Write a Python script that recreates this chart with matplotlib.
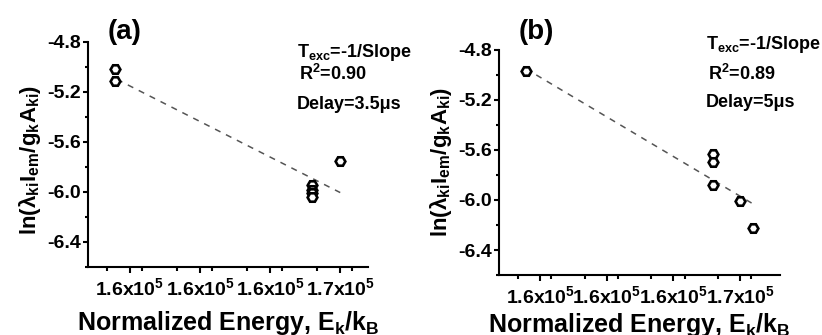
import matplotlib
matplotlib.use("Agg")
from matplotlib import pyplot as plt
from matplotlib.ticker import MultipleLocator, FixedLocator, FuncFormatter

plt.rcParams['font.family'] = ['Liberation Sans', 'DejaVu Sans']
plt.rcParams['font.weight'] = 'bold'
plt.rcParams['axes.labelweight'] = 'bold'
plt.rcParams['axes.unicode_minus'] = False
plt.rcParams['mathtext.fontset'] = 'custom'
plt.rcParams['mathtext.rm'] = 'Liberation Sans:bold'
plt.rcParams['mathtext.it'] = 'Liberation Sans:bold'
plt.rcParams['mathtext.bf'] = 'Liberation Sans:bold'

# panel (a), delay 3.5 us
xa = [156370, 156370, 164800, 164800, 164800, 164800, 166000]
ya = [-5.02, -5.11, -5.945, -5.985, -6.01, -6.04, -5.75]
fit_xa = [156440, 166000]
fit_ya = [-5.10, -6.005]

# panel (b), delay 5 us
xb = [156370, 164800, 164800, 164800, 166000, 166600]
yb = [-4.97, -5.63, -5.70, -5.88, -6.01, -6.225]
fit_xb = [156820, 166590]
fit_yb = [-5.00, -6.032]

xticks = [157000, 160000, 163000, 166000]
yticks = [-4.8, -5.2, -5.6, -6.0, -6.4]

panels = [
    dict(tag="(a)", x=xa, y=ya, fx=fit_xa, fy=fit_ya, r2="0.90", delay="3.5",
         rect=[0.107, 0.203, 0.341, 0.672], xlim=(155200, 167200), tagy=1.012,
         tx=0.746, ty=(0.933, 0.831, 0.70), ylab=(-0.16, 0.476), xlab=(0.5, -0.185)),
    dict(tag="(b)", x=xb, y=yb, fx=fit_xb, fy=fit_yb, r2="0.89", delay="5",
         rect=[0.607, 0.179, 0.342, 0.672], xlim=(155140, 167800), tagy=1.05,
         tx=0.737, ty=(1.005, 0.867, 0.745), ylab=(-0.16, 0.504), xlab=(0.5, -0.16)),
]

fig = plt.figure(figsize=(8.22, 3.35), dpi=100)

for p in panels:
    ax = fig.add_axes(p['rect'])
    ax.plot(p['fx'], p['fy'], ls=(0, (4, 4)), color='#555555', lw=1.1)
    ax.plot(p['x'], p['y'], ls='none', marker='H', ms=7, mfc='white', mec='black', mew=1.9)
    ax.set_xlim(*p['xlim'])
    ax.set_ylim(-6.6, -4.8)
    ax.spines['top'].set_visible(False)
    ax.spines['right'].set_visible(False)
    for s in ('left', 'bottom'):
        ax.spines[s].set_linewidth(1.5)
    ax.xaxis.set_major_locator(FixedLocator(xticks))
    ax.xaxis.set_minor_locator(MultipleLocator(1500))
    ax.xaxis.set_major_formatter(FuncFormatter(lambda v, i: f"{v/1e5:.1f}x10$^5$"))
    ax.set_yticks(yticks)
    ax.yaxis.set_minor_locator(MultipleLocator(0.2))
    ax.tick_params(which='major', direction='out', width=1.5, labelsize=14)
    ax.tick_params(which='minor', direction='out', width=1.5)
    ax.tick_params(axis='x', which='major', length=4.5, pad=3)
    ax.tick_params(axis='x', which='minor', length=3)
    ax.tick_params(axis='y', which='major', length=3.5, pad=1.5)
    ax.tick_params(axis='y', which='minor', length=2.2)
    ax.set_xlabel("Normalized Energy, E$_k$/k$_B$", fontsize=18)
    ax.set_ylabel("ln(λ$_{ki}$I$_{em}$/g$_k$A$_{ki}$)", fontsize=16)
    ax.yaxis.set_label_coords(*p['ylab'])
    ax.xaxis.set_label_coords(*p['xlab'])
    ax.text(0.07, p['tagy'], p['tag'], transform=ax.transAxes, fontsize=20, ha='left', va='baseline')
    ty = p['ty']
    ax.text(p['tx'], ty[0], "T$_{exc}$=-1/Slope", transform=ax.transAxes, fontsize=13, va='baseline')
    ax.text(p['tx'] + 0.006, ty[1], f"R$^2$={p['r2']}", transform=ax.transAxes, fontsize=13, va='baseline')
    ax.text(p['tx'], ty[2], f"Delay={p['delay']}μs", transform=ax.transAxes, fontsize=13, va='baseline')

fig.savefig("out.png", dpi=100)
